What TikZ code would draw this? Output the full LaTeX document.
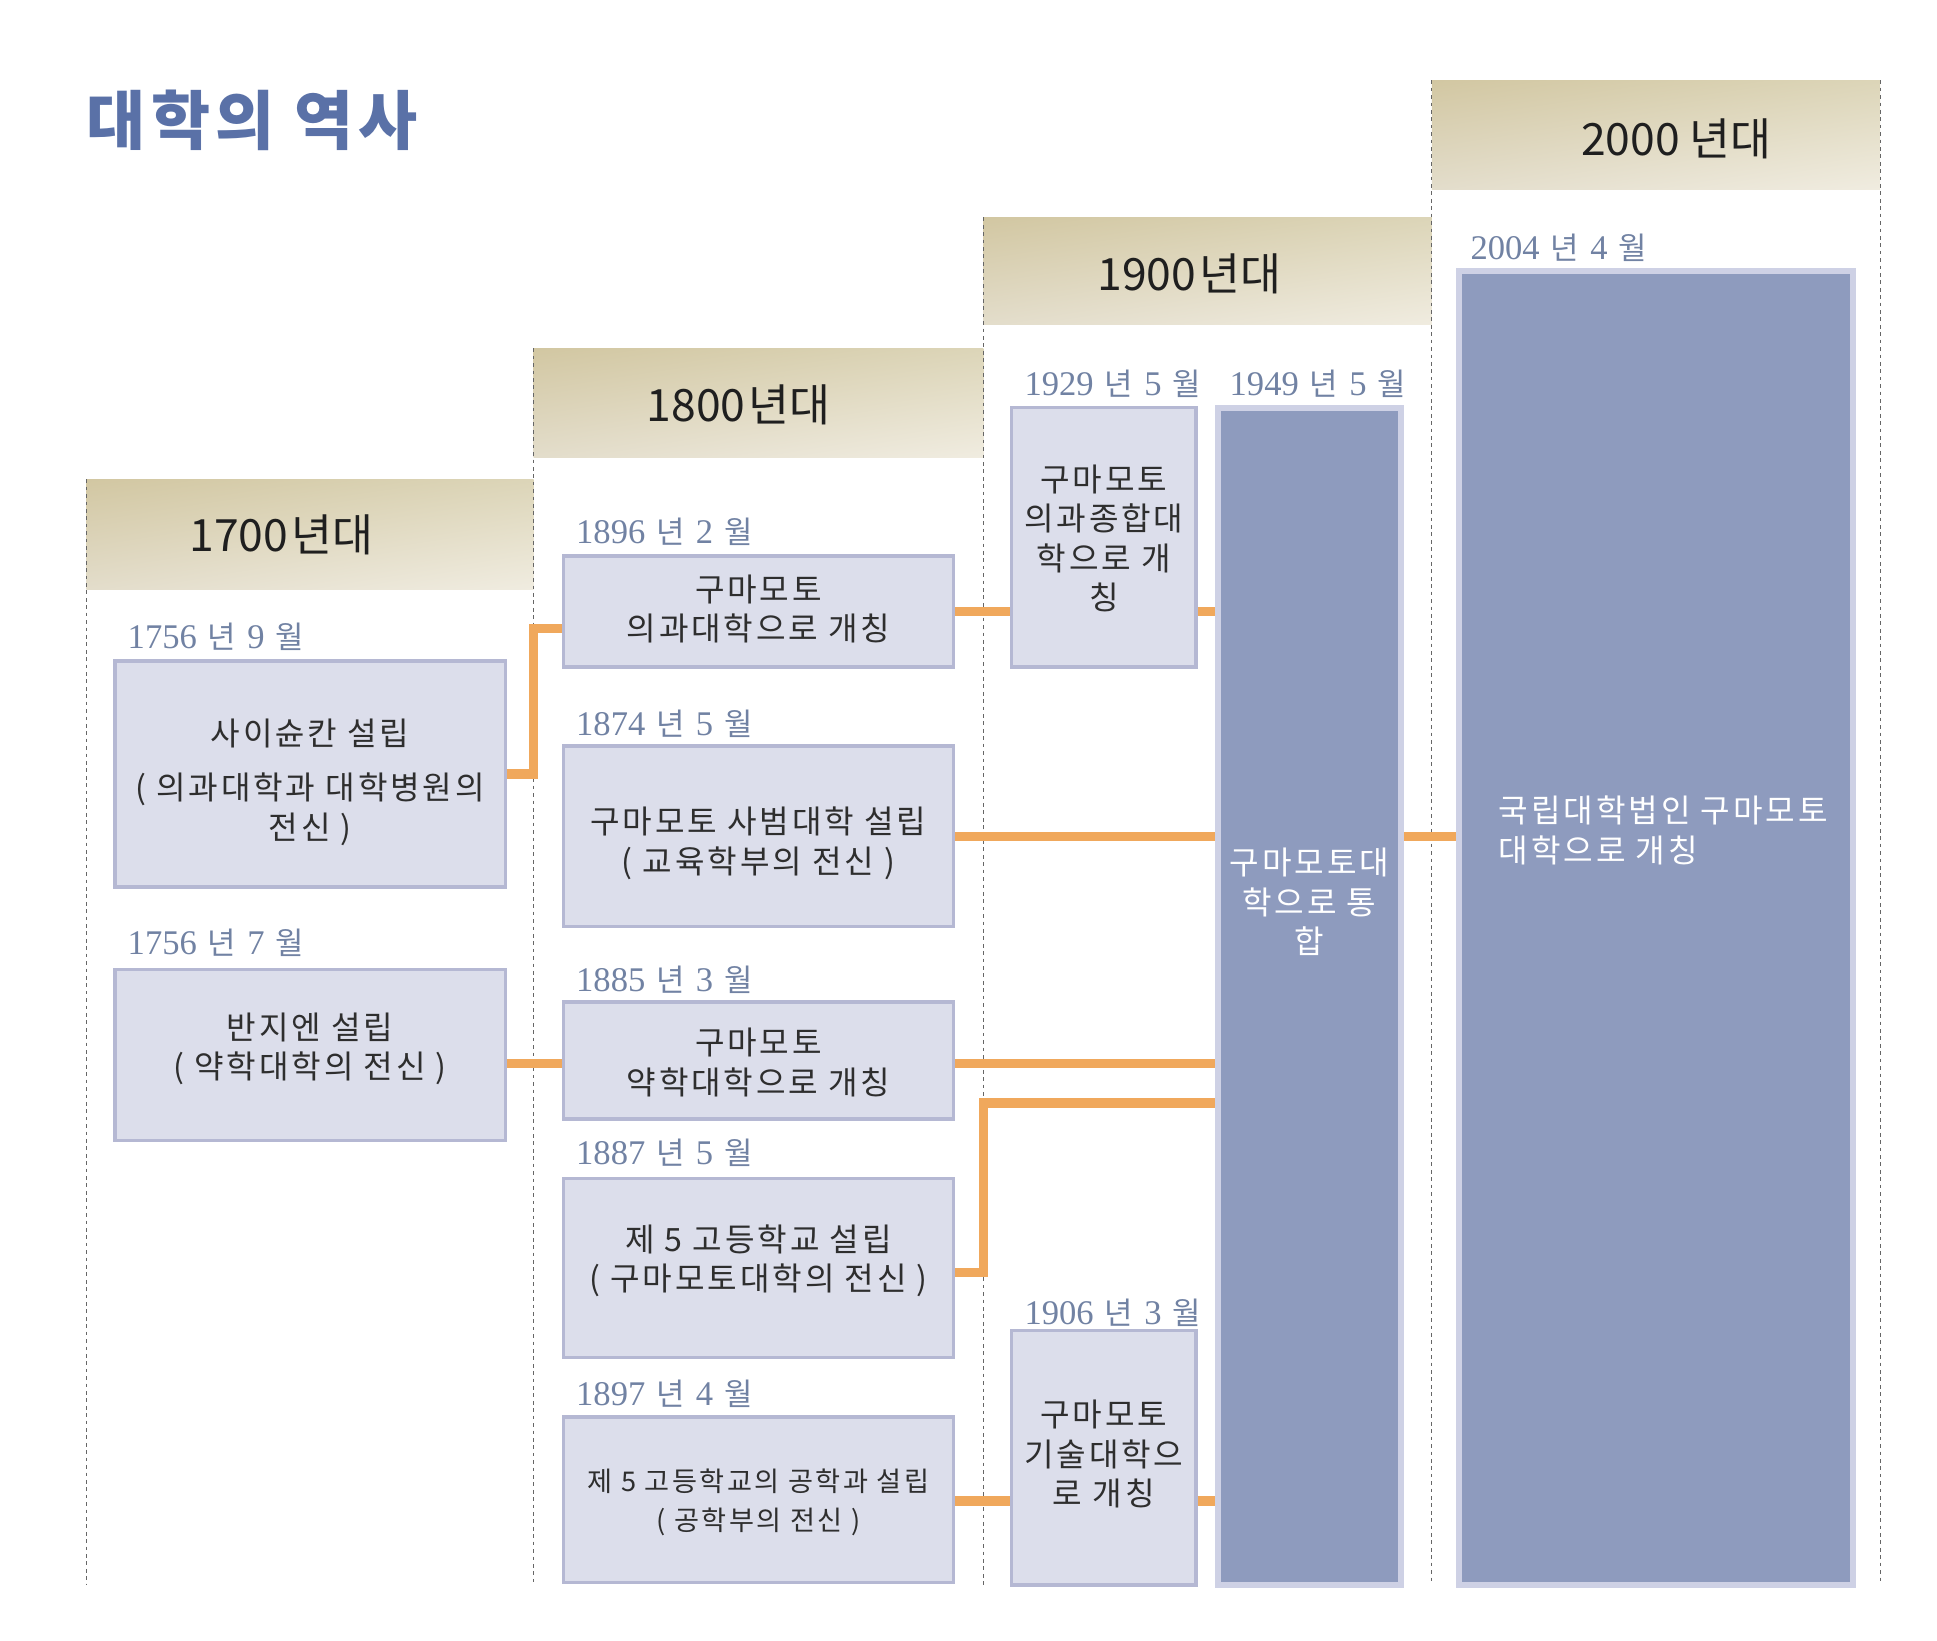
\documentclass[tikz,border=0pt]{standalone}
\usepackage{fontspec}
\setmainfont{Liberation Serif}
\newfontfamily\kr{Noto Sans CJK KR}
\newfontfamily\krs[LetterSpace=9]{Noto Sans CJK KR}
\newfontfamily\krt[LetterSpace=8]{Noto Sans CJK KR}
\usetikzlibrary{fit,shadings}
\definecolor{boxfill}{HTML}{DCDEEB}
\definecolor{boxline}{HTML}{B5B8D3}
\definecolor{darkfill}{HTML}{8E9BBE}
\definecolor{darkline}{HTML}{CED1E5}
\definecolor{conncol}{HTML}{F0A85C}
\definecolor{datecol}{HTML}{7182A3}
\definecolor{titlecol}{HTML}{5A71A7}
\definecolor{hdrUL}{HTML}{D2C7A2}
\definecolor{hdrUR}{HTML}{DCD5B8}
\definecolor{hdrLL}{HTML}{E3DDCB}
\definecolor{hdrLR}{HTML}{F0ECE0}
\definecolor{txtcol}{HTML}{2E2E2E}
\newcommand{\dlab}[2]{#1\hspace{0.32em}{\kr\fontsize{12.5}{14}\selectfont 년}\hspace{0.32em}#2\hspace{0.32em}{\kr\fontsize{12.5}{14}\selectfont 월}}
\tikzset{
  boxnode/.style={draw=boxline, fill=boxfill, line width=1.4pt, inner sep=0pt},
  boxtext/.style={align=center, text=txtcol, inner sep=0pt, font=\krs\fontsize{13}{16}\selectfont},
  darknode/.style={draw=darkline, fill=darkfill, line width=2.4pt, inner sep=0pt},
  darktext/.style={text=white, align=center, font=\krs\fontsize{13}{16}\selectfont, inner sep=0pt},
  datelab/.style={anchor=base west, text=datecol, font=\fontsize{14}{16}\selectfont, inner sep=0pt},
  hdrtext/.style={text=black!88, font=\kr\fontsize{18}{20}\selectfont, inner sep=0pt},
  hdrshade/.style={upper left=hdrUL, upper right=hdrUR, lower left=hdrLL, lower right=hdrLR},
  connline/.style={draw=conncol, line width=3.8pt},
  colline/.style={draw=black!60, line width=0.5pt, dash pattern=on 1.5pt off 1.5pt}
}
\begin{document}
\begin{tikzpicture}[x=0.5pt, y=-0.5pt]
\useasboundingbox (0,0) rectangle (1568,1328);
% title
\node[anchor=base west, inner sep=0pt, text=titlecol, font=\krt\bfseries\fontsize{26}{28}\selectfont] (title) at (70,117) {대학의 역사};
% headers
\shade[hdrshade] (70,388) rectangle (432,477);
\shade[hdrshade] (432,282) rectangle (796,370);
\shade[hdrshade] (796,176) rectangle (1159,263);
\shade[hdrshade] (1159,65) rectangle (1522,153);
\node[hdrtext] (h17) at (228,433) {1700\hspace{0.08em}년대};
\node[hdrtext] (h18) at (598,328) {1800\hspace{0.08em}년대};
\node[hdrtext] (h19) at (963,222) {1900\hspace{0.08em}년대};
\node[hdrtext] (h20) at (1357,112) {2000 년대};
% column lines
\draw[colline] (70,388) -- (70,1283);
\draw[colline] (432,282) -- (432,1283);
\draw[colline] (796,176) -- (796,1283);
\draw[colline] (1159,65) -- (1159,1283);
\draw[colline] (1522,65) -- (1522,1283);
\coordinate (j1) at (432,509);
\coordinate (j2) at (796,893);
\coordinate (yb) at (0,861);
\coordinate (y4) at (0,1030);
\coordinate (y5) at (0,1215);
% boxes
\node[boxnode, fit={(93,535)(409,718)}] (sai) {};
\node[boxnode, fit={(93,785)(409,923)}] (ban) {};
\node[boxnode, fit={(456,450)(772,540)}] (b1896) {};
\node[boxnode, fit={(456,604)(772,750)}] (b1874) {};
\node[boxnode, fit={(456,811)(772,906)}] (b1885) {};
\node[boxnode, fit={(456,954)(772,1099)}] (b1887) {};
\node[boxnode, fit={(456,1147)(772,1281)}] (b1897) {};
\node[boxnode, fit={(819,330)(968,540)}] (b1929) {};
\node[boxnode, fit={(819,1077)(968,1283)}] (b1906) {};
\node[darknode, fit={(986,330)(1134,1283)}] (b1949) {};
\node[darknode, fit={(1181,219)(1500,1283)}] (b2004) {};
% box texts
\node[boxtext] (tsai) at (251,633) {사이슌칸 설립\\[6pt]( 의과대학과 대학병원의\\전신 )};
\node[boxtext] (tban) at (251,849) {반지엔 설립\\( 약학대학의 전신 )};
\node[boxtext] (t1896) at (614,493) {구마모토\\의과대학으로 개칭};
\node[boxtext] (t1874) at (614,682.5) {구마모토 사범대학 설립\\( 교육학부의 전신 )};
\node[boxtext] (t1885) at (614,860) {구마모토\\약학대학으로 개칭};
\node[boxtext] (t1887) at (614,1020.5) {제 5 고등학교 설립\\( 구마모토대학의 전신 )};
\node[boxtext, font=\krs\fontsize{11}{16}\selectfont] (t1897) at (614,1216) {제 5 고등학교의 공학과 설립\\( 공학부의 전신 )};
\node[boxtext] (t1929) at (893.5,436) {구마모토\\의과종합대\\학으로 개\\칭};
\node[boxtext] (t1906) at (893.5,1177) {구마모토\\기술대학으\\로 개칭};
\node[darktext] (t1949) at (1060,730) {구마모토대\\학으로 통\\합};
\node[darktext, anchor=west, align=left] (t2004) at (1213,672) {국립대학법인 구마모토\\대학으로 개칭};
% date labels
\node[datelab] (d1) at (103,525) {\dlab{1756}{9}};
\node[datelab] (d2) at (103,773) {\dlab{1756}{7}};
\node[datelab] (d3) at (466,440) {\dlab{1896}{2}};
\node[datelab] (d4) at (466,595) {\dlab{1874}{5}};
\node[datelab] (d5) at (466,803) {\dlab{1885}{3}};
\node[datelab] (d6) at (466,943) {\dlab{1887}{5}};
\node[datelab] (d7) at (466,1138) {\dlab{1897}{4}};
\node[datelab] (d8) at (829,320) {\dlab{1929}{5}};
\node[datelab] (d9) at (995,320) {\dlab{1949}{5}};
\node[datelab] (d10) at (829,1072) {\dlab{1906}{3}};
\node[datelab] (d11) at (1190,210) {\dlab{2004}{4}};
% connectors
\draw[connline] (sai.east) -| (j1) -- (j1 -| b1896.west);
\draw[connline] (ban.east |- yb) -- (b1885.west |- yb);
\draw[connline] (b1896.east) -- (b1896.east -| b1929.west);
\draw[connline] (b1929.east |- b1896.east) -- (b1896.east -| b1949.west);
\draw[connline] (b1874.east) -- (b1874.east -| b1949.west);
\draw[connline] (b1885.east |- yb) -- (b1949.west |- yb);
\draw[connline] (b1887.east |- y4) -| (j2) -- (j2 -| b1949.west);
\draw[connline] (b1897.east |- y5) -- (b1906.west |- y5);
\draw[connline] (b1906.east |- y5) -- (b1949.west |- y5);
\draw[connline] (b1949.east |- b1874.east) -- (b1874.east -| b2004.west);
\end{tikzpicture}
\end{document}
